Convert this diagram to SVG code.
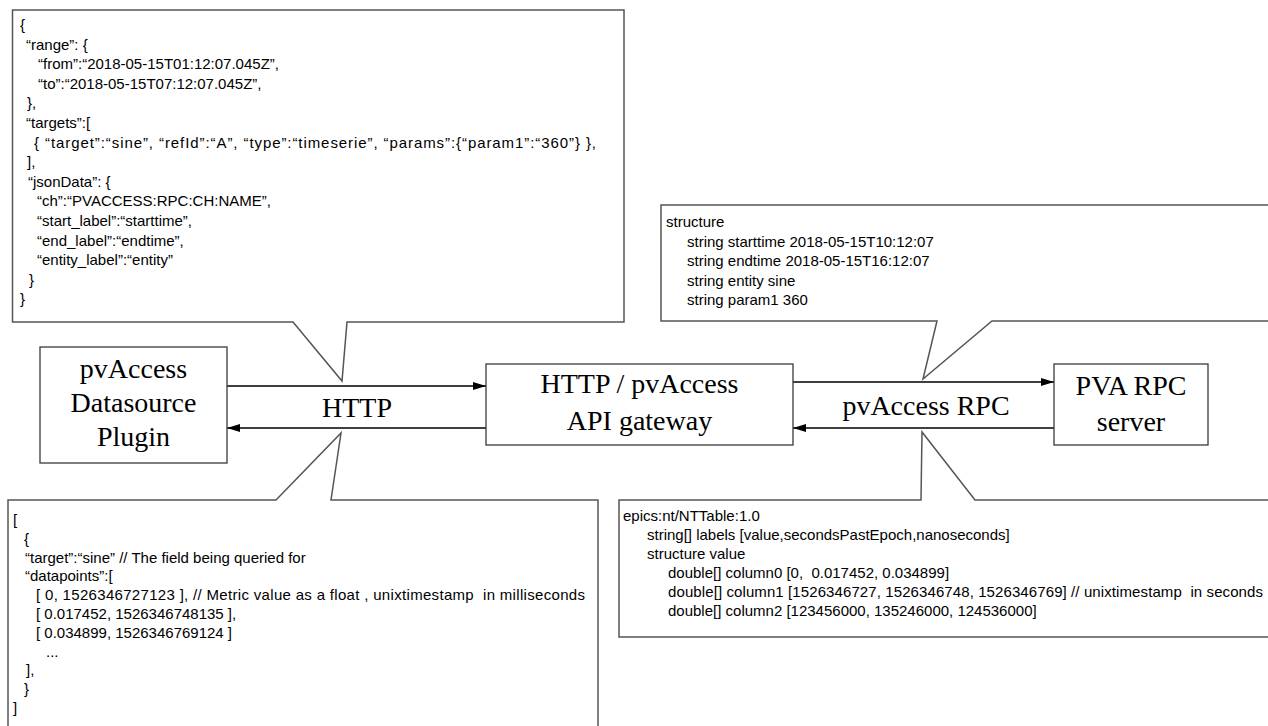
<svg xmlns="http://www.w3.org/2000/svg" width="1268" height="726" viewBox="0 0 1268 726">
<defs>
<marker id="ah" viewBox="0 0 13 8" refX="13" refY="4" markerWidth="13" markerHeight="8" markerUnits="userSpaceOnUse" orient="auto"><path d="M0,0 L13,4 L0,8 z" fill="#000"/></marker>
<style>
.node rect{fill:#fff;stroke:#3a3a3a;stroke-width:1.3}
.node text,.lbl{font-family:"Liberation Serif","Times New Roman",serif;font-size:28px;fill:#000;text-anchor:middle}
.callout path{fill:#fff;stroke:#555;stroke-width:1.5}
.callout text{font-family:"Liberation Sans",Arial,sans-serif;font-size:15px;fill:#000;white-space:pre}
.edge{stroke:#000;stroke-width:1.3;fill:none;marker-end:url(#ah)}
</style>
</defs>
<rect width="1268" height="726" fill="#fff"/>

<g id="callout-request" class="callout">
<path d="M12.5,10 H624 V322 H347 L342,381 L293,322 H12.5 Z"/>
<text x="20" y="30">{</text>
<text x="26" y="49.6">“range”: {</text>
<text x="38" y="69.2">“from”:“2018-05-15T01:12:07.045Z”,</text>
<text x="38" y="88.8">“to”:“2018-05-15T07:12:07.045Z”,</text>
<text x="27" y="108.4">},</text>
<text x="26" y="128">“targets”:[</text>
<text x="34" y="147.6" textLength="562" lengthAdjust="spacing">{ “target”:“sine”, “refId”:“A”, “type”:“timeserie”, “params”:{“param1”:“360”} },</text>
<text x="27" y="167.2">],</text>
<text x="28" y="186.8">“jsonData”: {</text>
<text x="37" y="206.4">“ch”:“PVACCESS:RPC:CH:NAME”,</text>
<text x="37" y="226">“start_label”:“starttime”,</text>
<text x="37" y="245.6">“end_label”:“endtime”,</text>
<text x="37" y="265.2">“entity_label”:“entity”</text>
<text x="29" y="284.8">}</text>
<text x="20" y="304.4">}</text>
</g>

<g id="callout-response" class="callout">
<path d="M8,500 H276 L341,433 L331,500 H598 V740 H8 Z"/>
<text x="13" y="525">[</text>
<text x="24" y="543.8">{</text>
<text x="25" y="562.6">“target”:“sine” // The field being queried for</text>
<text x="25" y="581.4">“datapoints”:[</text>
<text x="36" y="600.2" textLength="549" lengthAdjust="spacing">[ 0, 1526346727123 ], // Metric value as a float , unixtimestamp  in milliseconds</text>
<text x="36" y="619">[ 0.017452, 1526346748135 ],</text>
<text x="36" y="637.8">[ 0.034899, 1526346769124 ]</text>
<text x="46" y="656.6">...</text>
<text x="26" y="675.4">],</text>
<text x="24" y="694.2">}</text>
<text x="13" y="713">]</text>
</g>

<g id="callout-rpc-request" class="callout">
<path d="M661,205 H1280 V321 H992 L923,379 L937,321 H661 Z"/>
<text x="666" y="227">structure</text>
<text x="687" y="247">string starttime 2018-05-15T10:12:07</text>
<text x="687" y="266">string endtime 2018-05-15T16:12:07</text>
<text x="687" y="286">string entity sine</text>
<text x="687" y="305">string param1 360</text>
</g>

<g id="callout-rpc-response" class="callout">
<path d="M619,500 H921 L922,432 L975,500 H1280 V637 H619 Z"/>
<text x="623" y="521">epics:nt/NTTable:1.0</text>
<text x="647" y="540">string[] labels [value,secondsPastEpoch,nanoseconds]</text>
<text x="647" y="559">structure value</text>
<text x="668" y="578">double[] column0 [0,  0.017452, 0.034899]</text>
<text x="668" y="597" textLength="595" lengthAdjust="spacing">double[] column1 [1526346727, 1526346748, 1526346769] // unixtimestamp  in seconds</text>
<text x="668" y="616">double[] column2 [123456000, 135246000, 124536000]</text>
</g>

<g id="connectors">
<path class="edge" d="M227,386 H486"/>
<path class="edge" d="M486,428 H227"/>
<path class="edge" d="M793,382 H1054"/>
<path class="edge" d="M1054,428 H793"/>
<text class="lbl" x="357" y="417">HTTP</text>
<text class="lbl" x="926" y="415">pvAccess RPC</text>
</g>

<g id="node-plugin" class="node">
<rect x="40" y="347" width="187" height="116"/>
<text x="133.5" y="378">pvAccess</text>
<text x="133.5" y="412">Datasource</text>
<text x="133.5" y="446">Plugin</text>
</g>

<g id="node-gateway" class="node">
<rect x="486" y="364" width="307" height="81"/>
<text x="639.5" y="393">HTTP / pvAccess</text>
<text x="639.5" y="430">API gateway</text>
</g>

<g id="node-pva" class="node">
<rect x="1054" y="364" width="154" height="81"/>
<text x="1131" y="395">PVA RPC</text>
<text x="1131" y="431">server</text>
</g>
</svg>
